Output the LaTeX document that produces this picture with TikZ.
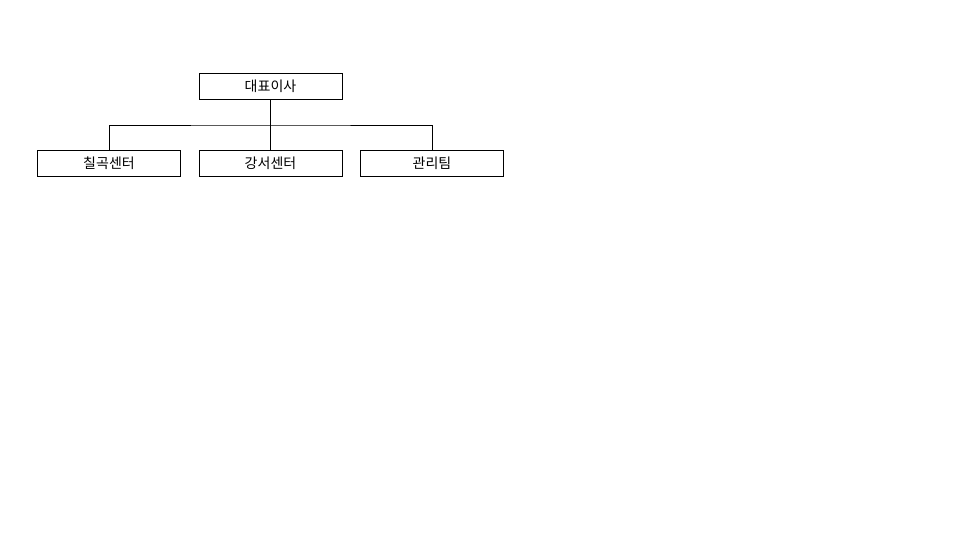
\documentclass[tikz,border=0pt]{standalone}
\usepackage{fontspec}
\newfontfamily\kr{Noto Sans CJK KR}
\begin{document}
\begin{tikzpicture}[x=1pt,y=-1pt]
\useasboundingbox (0,0) rectangle (960,540);
\tikzset{org/.style={draw=black,line width=.8pt,minimum width=143pt,minimum height=26pt,inner sep=0pt,font=\kr\fontsize{14}{16}\selectfont}}

\node[org] (ceo) at (270.5,86) {대표이사};
\node[org] (chilgok) at (109,163.5) {칠곡센터};
\node[org] (gangseo) at (270.5,163.5) {강서센터};
\node[org] (admin) at (432,163.5) {관리팀};

\coordinate (J) at (270.5,125);

\draw[line width=.8pt] (ceo.south) -- (J);
\draw[line width=.8pt] (chilgok.north) |- (J) -| (admin.north);
\draw[line width=.8pt] (J) -- (gangseo.north);
\end{tikzpicture}
\end{document}
